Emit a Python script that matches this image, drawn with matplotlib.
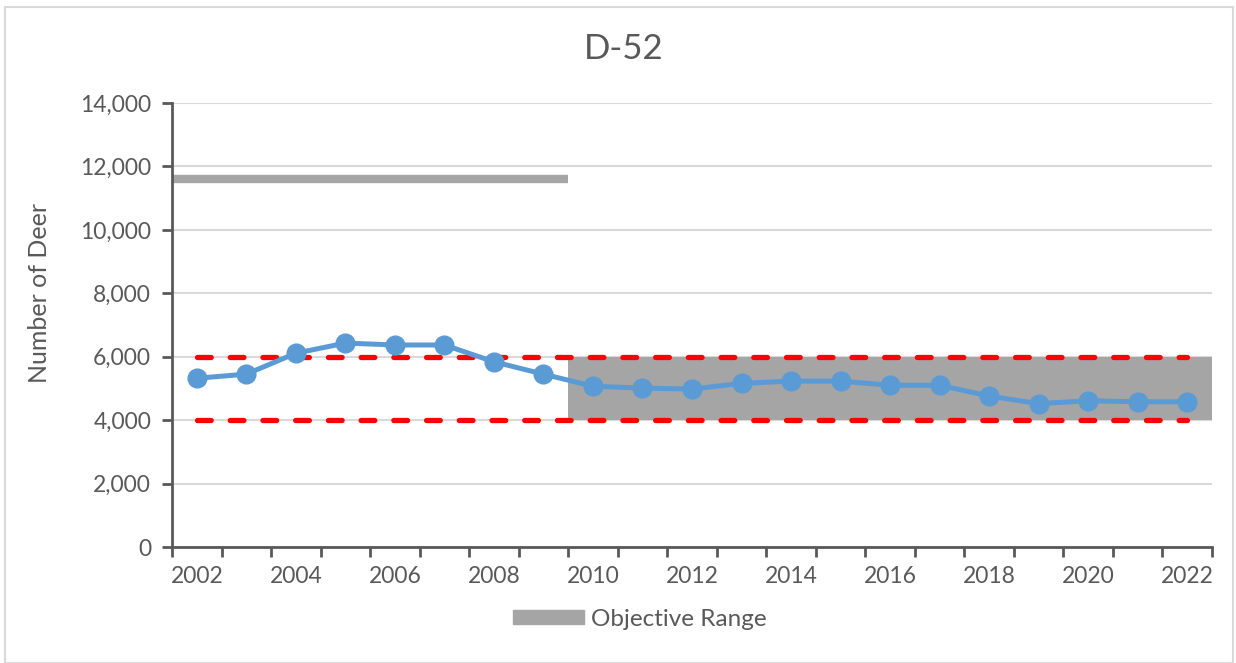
import matplotlib
matplotlib.use("Agg")
import matplotlib.pyplot as plt
from matplotlib.patches import Patch, Rectangle
from matplotlib.ticker import FuncFormatter, FixedLocator

years = list(range(2002, 2023))
deer = [5320, 5450, 6110, 6430, 6370, 6370, 5840, 5450, 5070,
        5010, 4980, 5160, 5230, 5230, 5100, 5100, 4760, 4520,
        4610, 4580, 4580]
obj_low, obj_high = 4000, 6000
old_objective = 11600
old_objective_last = 2009   # flat line objective through this year
y_ticks = list(range(0, 14001, 2000))

TXT = "#595959"
plt.rcParams["font.family"] = ["Lato", "DejaVu Sans"]

fig = plt.figure(figsize=(12.36, 6.63), dpi=100)
ax = fig.add_axes([172 / 1236, 1 - 547 / 663, 1040 / 1236, 444 / 663])

x = list(range(len(years)))
split = years.index(old_objective_last) + 0.5

# old single-value objective and the newer objective band
ax.plot([-0.5, split], [old_objective] * 2, color="#a5a5a5", lw=6,
        solid_capstyle="butt", zorder=2)
ax.add_patch(Rectangle((split, obj_low), len(years) - 0.5 - split,
                       obj_high - obj_low, color="#a5a5a5", lw=0, zorder=1))
for lvl in (obj_low, obj_high):
    ax.plot([x[0], x[-1]], [lvl] * 2, color="#ff0000", lw=3.8,
            dashes=(2.6, 3.6), dash_capstyle="round", zorder=3)

ax.plot(x, deer, color="#5b9bd5", lw=3.6, marker="o", ms=13.5, zorder=4)

ax.set_xlim(-0.5, len(years) - 0.5)
ax.set_ylim(0, 14000)
ax.set_yticks(y_ticks)
ax.yaxis.set_major_formatter(FuncFormatter(lambda v, p: f"{int(v):,}"))
ax.grid(axis="y", color="#d9d9d9", lw=1.5, zorder=0)
ax.set_axisbelow(True)

# category axis: ticks on boundaries, labels every other year
ax.xaxis.set_major_locator(FixedLocator([i - 0.5 for i in range(len(years) + 1)]))
ax.xaxis.set_major_formatter(FuncFormatter(lambda v, p: ""))
for i, yr in enumerate(years):
    if i % 2 == 0:
        ax.text(i, -600, str(yr), ha="center", va="top", fontsize=16.5, color=TXT)

for s in ("top", "right"):
    ax.spines[s].set_visible(False)
for s in ("left", "bottom"):
    ax.spines[s].set_color("#595959")
    ax.spines[s].set_linewidth(2)
ax.tick_params(axis="both", color="#595959", width=2, length=7,
               labelsize=16.5, labelcolor=TXT)
ax.tick_params(axis="y", pad=8)

fig.text(40 / 1236, 1 - 293 / 663, "Number of Deer", rotation=90,
         ha="center", va="center", fontsize=18, color=TXT)
fig.text(624 / 1236, 1 - 49 / 663, "D-52", ha="center", va="center",
         fontsize=25, color=TXT)

fig.legend(handles=[Patch(color="#a5a5a5", label="Objective Range")],
           loc="center", bbox_to_anchor=(640 / 1236, 1 - 619 / 663),
           frameon=False, fontsize=17.5, labelcolor=TXT,
           handlelength=2.9, handleheight=0.55, handletextpad=0.3)

# outer chart border
fig.add_artist(Rectangle((5 / 1236, 0), 1 - 8 / 1236, 1 - 7 / 663,
                         transform=fig.transFigure, fill=False,
                         edgecolor="#d9d9d9", lw=1.5))

fig.savefig("out.png", dpi=100, facecolor="white")
